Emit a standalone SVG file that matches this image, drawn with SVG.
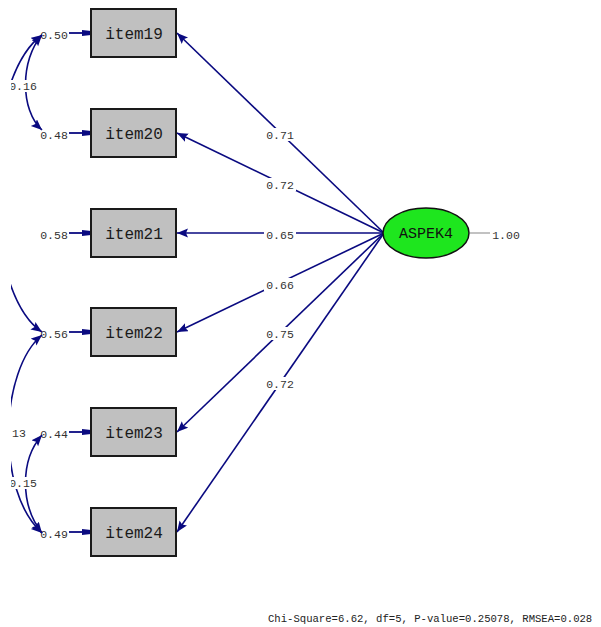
<svg xmlns="http://www.w3.org/2000/svg" width="601" height="627" viewBox="0 0 601 627">
  <style>
    .box { fill: #c0c0c0; stroke: #1a1a1a; stroke-width: 2; }
    .boxtxt { font-family: "Liberation Mono", "DejaVu Sans Mono", monospace; font-size: 16px; fill: #1a1a1a; text-anchor: middle; }
    .lat { fill: #1ee61e; stroke: #111; stroke-width: 1.5; }
    .lattxt { font-family: "Liberation Mono", "DejaVu Sans Mono", monospace; font-size: 15px; fill: #111; text-anchor: middle; }
    .lbl { font-family: "Liberation Mono", "DejaVu Sans Mono", monospace; font-size: 11.5px; fill: #333; text-anchor: middle; }
    .lblbg { fill: #ffffff; }
    .path { stroke: #0a0a80; stroke-width: 1.6; fill: none; marker-end: url(#ah); }
    .err { stroke: #0a0a80; stroke-width: 1.8; fill: none; marker-end: url(#eh); }
    .cov { stroke: #0a0a80; stroke-width: 1.6; fill: none; marker-start: url(#ah); marker-end: url(#ah); }
    .foot { font-family: "Liberation Mono", "DejaVu Sans Mono", monospace; font-size: 10.6px; fill: #222; }
  </style>
  <defs>
    <marker id="ah" markerUnits="userSpaceOnUse" markerWidth="12" markerHeight="10" refX="11" refY="4.5" orient="auto-start-reverse">
      <path d="M0,0 L11,4.5 L0,9 L2,4.5 z" fill="#0a0a80"/>
    </marker>
    <marker id="eh" markerUnits="userSpaceOnUse" markerWidth="10" markerHeight="8" refX="9" refY="3" orient="auto">
      <path d="M0,0 L9,1 L9,5 L0,6 z" fill="#0a0a80"/>
    </marker>
    <clipPath id="leftclip">
      <rect x="11" y="0" width="590" height="627"/>
    </clipPath>
  </defs>

  <rect x="0" y="0" width="601" height="627" fill="#ffffff"/>

  <!-- connectors -->
  <g id="connectors">
    <g id="paths">
      <line class="path" x1="384" y1="233" x2="177" y2="33"/>
      <line class="path" x1="384" y1="233" x2="177" y2="133"/>
      <line class="path" x1="384" y1="233" x2="177" y2="233"/>
      <line class="path" x1="384" y1="233" x2="177" y2="332"/>
      <line class="path" x1="384" y1="233" x2="177" y2="432"/>
      <line class="path" x1="384" y1="233" x2="177" y2="532"/>
    </g>
    <g id="path-labels">
      <rect class="lblbg" x="264" y="128" width="32" height="13"/>
      <text class="lbl" x="280" y="139">0.71</text>
      <rect class="lblbg" x="264" y="178" width="32" height="13"/>
      <text class="lbl" x="280" y="189">0.72</text>
      <rect class="lblbg" x="264" y="228" width="32" height="13"/>
      <text class="lbl" x="280" y="239">0.65</text>
      <rect class="lblbg" x="264" y="278" width="32" height="13"/>
      <text class="lbl" x="280" y="289">0.66</text>
      <rect class="lblbg" x="264" y="327" width="32" height="13"/>
      <text class="lbl" x="280" y="338">0.75</text>
      <rect class="lblbg" x="264" y="377" width="32" height="13"/>
      <text class="lbl" x="280" y="388">0.72</text>
    </g>
    <g id="errors">
      <line class="err" x1="69" y1="33" x2="91" y2="33"/>
      <line class="err" x1="69" y1="133" x2="91" y2="133"/>
      <line class="err" x1="69" y1="233" x2="91" y2="233"/>
      <line class="err" x1="69" y1="332" x2="91" y2="332"/>
      <line class="err" x1="69" y1="432" x2="91" y2="432"/>
      <line class="err" x1="69" y1="532" x2="91" y2="532"/>
      <text class="lbl" x="54" y="39">0.50</text>
      <text class="lbl" x="54" y="139">0.48</text>
      <text class="lbl" x="54" y="239">0.58</text>
      <text class="lbl" x="54" y="338">0.56</text>
      <text class="lbl" x="54" y="438">0.44</text>
      <text class="lbl" x="54" y="538">0.49</text>
    </g>
    <g id="covariances" clip-path="url(#leftclip)">
      <path class="cov" d="M42,35 C-20,80 -20,290 42,332"/>
      <path class="cov" d="M42,35 C20,60 20,110 42,130"/>
      <path class="cov" d="M42,335 C0,370 -5,490 42,533"/>
      <path class="cov" d="M42,435 C20,460 20,505 42,533"/>
      <rect class="lblbg" x="8" y="80" width="31" height="12"/>
      <text class="lbl" x="23" y="90">0.16</text>
      <rect class="lblbg" x="0" y="427" width="28" height="12"/>
      <text class="lbl" x="12" y="437">0.13</text>
      <rect class="lblbg" x="8" y="477" width="31" height="12"/>
      <text class="lbl" x="23" y="487">0.15</text>
    </g>
    <g id="latent-variance">
      <line x1="470" y1="233" x2="490" y2="233" stroke="#999" stroke-width="1.2"/>
      <text class="lbl" x="506" y="239">1.00</text>
    </g>
  </g>

  <!-- nodes -->
  <g id="item19"><rect class="box" x="91" y="9" width="85" height="48"/><text class="boxtxt" x="134" y="39">item19</text></g>
  <g id="item20"><rect class="box" x="91" y="109" width="85" height="48"/><text class="boxtxt" x="134" y="139">item20</text></g>
  <g id="item21"><rect class="box" x="91" y="209" width="85" height="48"/><text class="boxtxt" x="134" y="239">item21</text></g>
  <g id="item22"><rect class="box" x="91" y="308" width="85" height="48"/><text class="boxtxt" x="134" y="338">item22</text></g>
  <g id="item23"><rect class="box" x="91" y="408" width="85" height="48"/><text class="boxtxt" x="134" y="438">item23</text></g>
  <g id="item24"><rect class="box" x="91" y="508" width="85" height="48"/><text class="boxtxt" x="134" y="538">item24</text></g>
  <g id="ASPEK4"><ellipse class="lat" cx="426" cy="233" rx="43" ry="25"/><text class="lattxt" x="426" y="238">ASPEK4</text></g>

  <text class="foot" x="268" y="622">Chi-Square=6.62, df=5, P-value=0.25078, RMSEA=0.028</text>
</svg>
